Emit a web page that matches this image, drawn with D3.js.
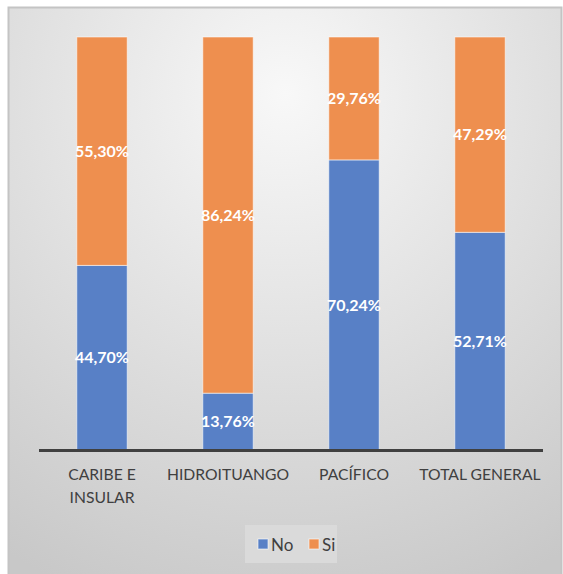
<!DOCTYPE html>
<html><head><meta charset="utf-8">
<script src="https://cdn.jsdelivr.net/npm/d3@7/dist/d3.min.js"></script>
<style>html,body{margin:0;padding:0;background:#fff}svg{display:block}</style>
</head><body>
<svg id="c" width="563" height="574"></svg>
<script>
const categories = [["CARIBE E","INSULAR"],["HIDROITUANGO"],["PACÍFICO"],["TOTAL GENERAL"]];
const noValues = [44.70, 13.76, 70.24, 52.71];
const siValues = [55.30, 86.24, 29.76, 47.29];
const seriesNames = ["No","Si"];
const colors = ["#5880c6","#ee8f4f"];

const svg = d3.select("#c");
const defs = svg.append("defs");
const g1 = defs.append("radialGradient").attr("id","bg").attr("cx","50%").attr("cy","15%").attr("r","95%");
g1.append("stop").attr("offset","0%").attr("stop-color","#f8f8f8");
g1.append("stop").attr("offset","100%").attr("stop-color","#c8c8c8");

svg.append("rect").attr("x",8.5).attr("y",7.5).attr("width",553).attr("height",570)
  .attr("fill","url(#bg)").attr("stroke","#c4c4c4").attr("stroke-width",2);

const x = d3.scaleBand().domain(d3.range(categories.length)).range([39,543]).paddingInner(0.6).paddingOuter(0.3);
const y = d3.scaleLinear().domain([0,100]).range([450,37]);

const data = categories.map((c,i)=>({i, no:noValues[i], si:siValues[i]}));
const stack = d3.stack().keys(["no","si"])(data);

const font = "Lato, 'Open Sans', sans-serif";
stack.forEach((s,k)=>{
  const grp = svg.append("g");
  grp.selectAll("rect").data(s).enter().append("rect")
    .attr("x",d=>x(d.data.i)).attr("width",x.bandwidth())
    .attr("y",d=>y(d[1])).attr("height",d=>y(d[0])-y(d[1]))
    .attr("fill",colors[k]).attr("stroke","rgba(255,255,255,0.55)").attr("stroke-width",1);
  grp.selectAll("text").data(s).enter().append("text")
    .attr("x",d=>x(d.data.i)+x.bandwidth()/2)
    .attr("y",d=>(y(d[0])+y(d[1]))/2)
    .attr("dy","0.35em").attr("text-anchor","middle")
    .attr("fill","#fff").attr("font-weight","bold").attr("font-size",16).attr("font-family",font)
    .text(d=>(d[1]-d[0]).toFixed(2).replace(".",",")+"%");
});

// axis
const axis = d3.axisBottom(x).tickSize(0).tickFormat("");
const ax = svg.append("g").attr("transform","translate(0,450.5)").call(axis);
ax.select(".domain").attr("stroke","#404040").attr("stroke-width",3).attr("d","M39,0H543");

const lab = svg.append("g");
categories.forEach((c,i)=>{
  const t = lab.append("text").attr("x",x(i)+x.bandwidth()/2).attr("y",480)
    .attr("text-anchor","middle").attr("fill","#404040").attr("font-size",15.7).attr("font-family",font);
  c.forEach((line,j)=>t.append("tspan").attr("x",x(i)+x.bandwidth()/2).attr("dy",j?23:0).text(line));
});

// legend
svg.append("rect").attr("x",245).attr("y",525).attr("width",92).attr("height",38).attr("fill","#dadada");
const lg = svg.append("g");
const lx = [258,309];
seriesNames.forEach((n,k)=>{
  lg.append("rect").attr("x",lx[k]).attr("y",539).attr("width",10).attr("height",10)
    .attr("fill",colors[k]).attr("stroke","rgba(255,255,255,0.6)");
  lg.append("text").attr("x",lx[k]+13).attr("y",551).attr("fill","#404040")
    .attr("font-size",17).attr("font-family",font).text(n);
});
</script>
</body></html>
